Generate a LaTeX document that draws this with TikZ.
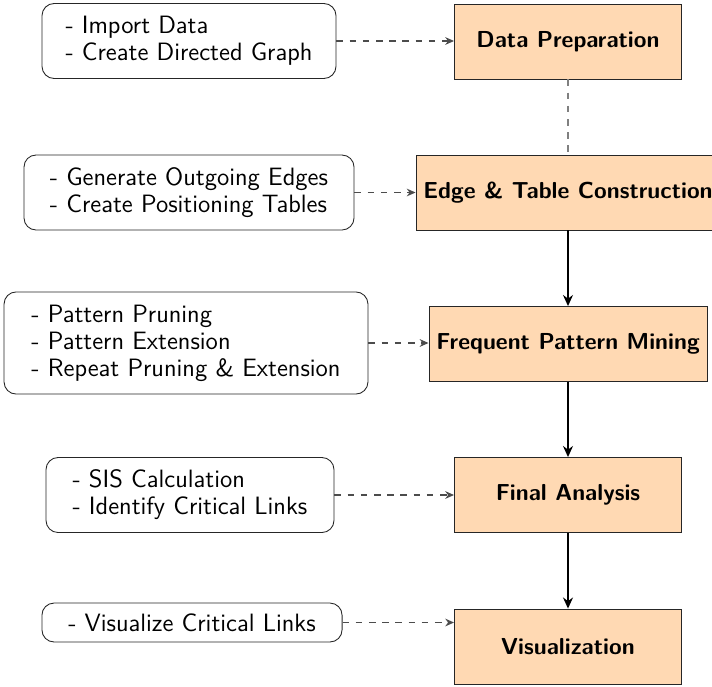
\documentclass[tikz,border=0pt]{standalone}
\usetikzlibrary{arrows.meta}
\definecolor{peach}{RGB}{255,217,179}
\begin{document}
\begin{tikzpicture}[x=0.4545pt,y=-0.4545pt,
  mainbox/.style={draw=black!85, fill=peach, font=\fontsize{10.5}{12}\selectfont\sffamily\bfseries, inner sep=2pt, minimum height=34.1pt},
  notebox/.style={draw=black!85, rounded corners=5.5pt, font=\fontsize{11.4}{12.3}\selectfont\sffamily, align=left, inner sep=2pt, minimum height=34.1pt},
  feed/.style={dashed, semithick, draw=black!70, -{Stealth[length=4pt,width=3.5pt]}},
  flow/.style={thick, -{Stealth[length=5pt,width=4.5pt]}},
  link/.style={dashed, semithick, draw=black!50}
]
\useasboundingbox (0,0) rectangle (712,686);

\node[mainbox, minimum width=103.2pt] (dp) at (568,41.5) {Data Preparation};
\node[mainbox, minimum width=138.2pt] (et) at (568,192.5) {Edge \& Table Construction};
\node[mainbox, minimum width=126.4pt] (fp) at (568,344) {Frequent Pattern Mining};
\node[mainbox, minimum width=103.2pt] (fa) at (568,495) {Final Analysis};
\node[mainbox, minimum width=103.2pt] (vi) at (568,646.5) {Visualization};

\node[notebox, minimum width=133.6pt] (n1) at (189,41) {- Import Data\\- Create Directed Graph};
\node[notebox, minimum width=150pt] (n2) at (189,192.5) {- Generate Outgoing Edges\\- Create Positioning Tables};
\node[notebox, minimum width=165.4pt, minimum height=46.4pt] (n3) at (186,343) {- Pattern Pruning\\- Pattern Extension\\- Repeat Pruning \& Extension};
\node[notebox, minimum width=130.9pt] (n4) at (190,495) {- SIS Calculation\\- Identify Critical Links};
\node[notebox, minimum width=136.4pt, minimum height=17.7pt] (n5) at (192,622.5) {- Visualize Critical Links};

\draw[link] (dp.south) -- (et.north);
\draw[flow] (et.south) -- (fp.north);
\draw[flow] (fp.south) -- (fa.north);
\draw[flow] (fa.south) -- (vi.north);

\draw[feed] (n1.east) -- (n1.east -| dp.west);
\draw[feed] (n2.east) -- (n2.east -| et.west);
\draw[feed] (n3.east) -- (n3.east -| fp.west);
\draw[feed] (n4.east) -- (n4.east -| fa.west);
\draw[feed] (n5.east) -- (n5.east -| vi.west);
\end{tikzpicture}
\end{document}
